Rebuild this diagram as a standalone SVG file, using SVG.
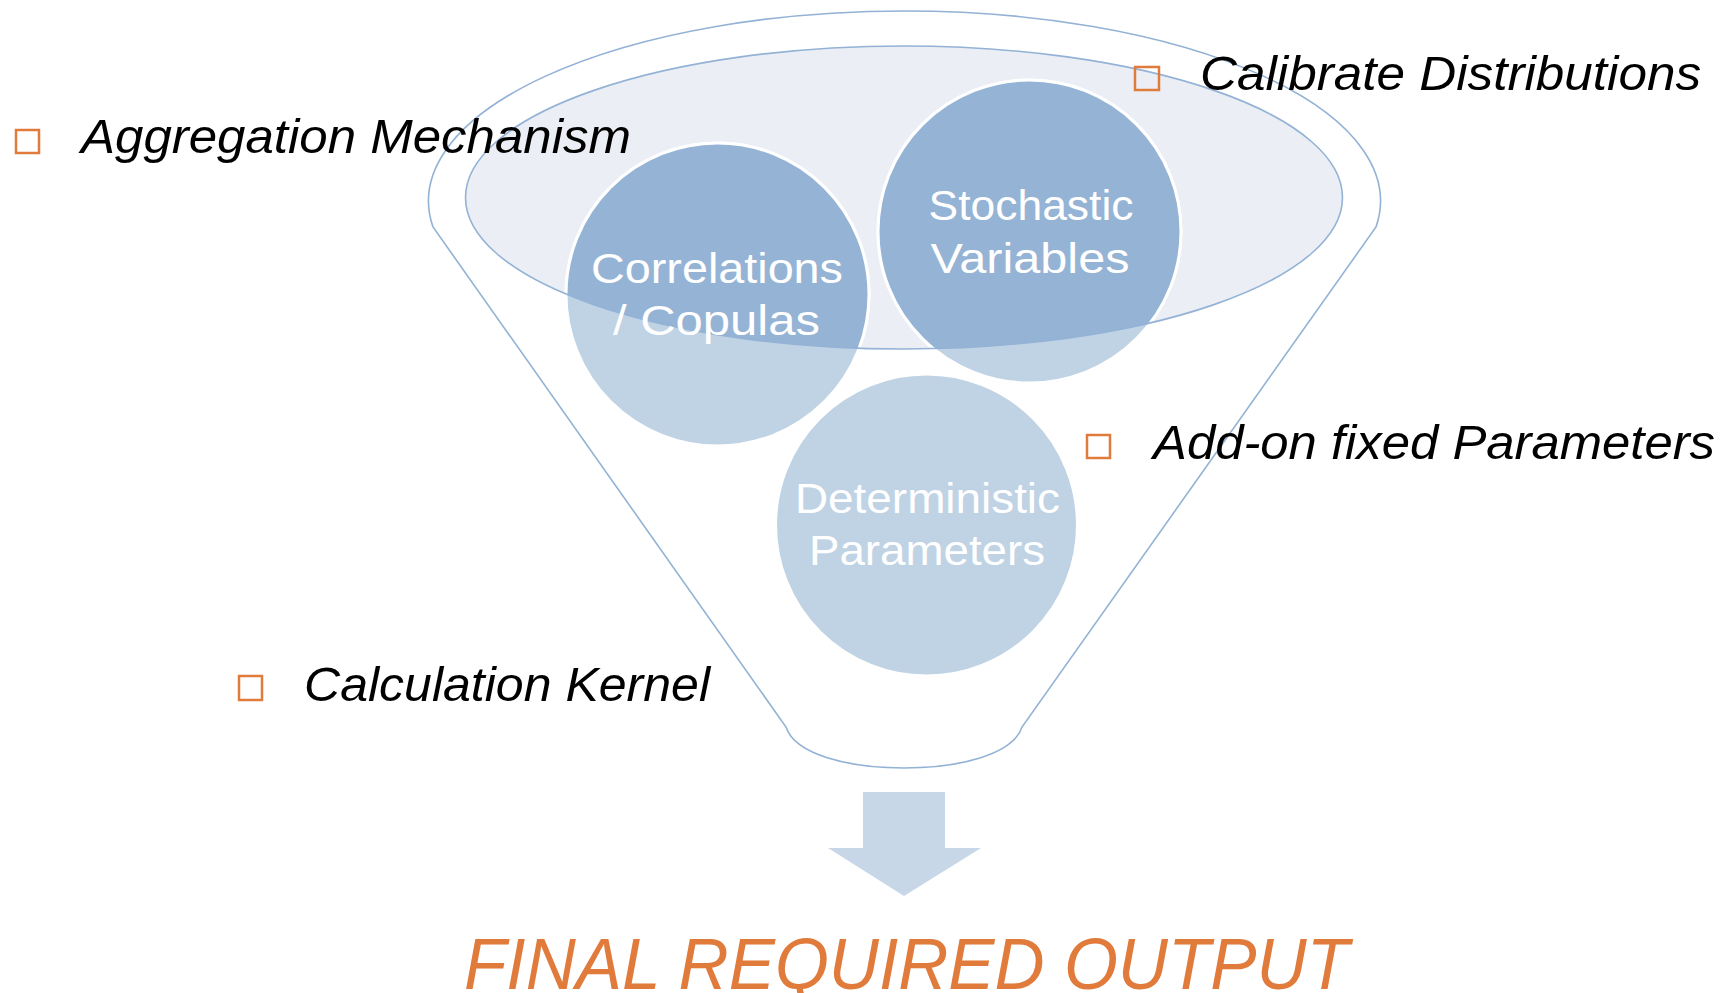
<svg xmlns="http://www.w3.org/2000/svg" width="1735" height="993" viewBox="0 0 1735 993">
<style>
.outline{fill:none;stroke:#93B2D5;stroke-width:1.6}
.circ{fill:#BFD3E5;stroke:#FFFFFF;stroke-width:3}
.circd{fill:#95B4D5;stroke:#FFFFFF;stroke-width:3}
.ctext{font-family:"Liberation Sans",Arial,sans-serif;font-size:43px;fill:#FFFFFF;text-anchor:middle}
.label{font-family:"Liberation Sans",Arial,sans-serif;font-size:48px;font-style:italic;fill:#000000}
.bullet{fill:none;stroke:#E07B3C;stroke-width:2.5}
</style>
<defs>
<clipPath id="ellClip"><ellipse cx="904" cy="197.5" rx="438.5" ry="151.5"/></clipPath>
</defs>
<rect width="1735" height="993" fill="#FFFFFF"/>
<g id="funnel">
<path d="M433,227 A476,190 0 1,1 1376,227 L1022,727 C1013,755 958,768 904,768 C850,768 795,755 786,727 Z" fill="#FFFFFF" stroke="#93B2D5" stroke-width="1.6"/>
<ellipse cx="904" cy="197.5" rx="438.5" ry="151.5" fill="#EBEFF5"/>
</g>
<g id="node-correlations">
<circle class="circ" cx="717.5" cy="294.5" r="151.5"/>
<circle class="circd" cx="717.5" cy="294.5" r="151.5" clip-path="url(#ellClip)"/>
</g>
<g id="node-stochastic">
<circle class="circ" cx="1029.5" cy="231.5" r="151.5"/>
<circle class="circd" cx="1029.5" cy="231.5" r="151.5" clip-path="url(#ellClip)"/>
</g>
<g id="node-deterministic">
<circle class="circ" cx="926.5" cy="525" r="151"/>
</g>
<ellipse class="outline" cx="904" cy="197.5" rx="438.5" ry="151.5"/>
<g id="node-texts">
<text class="ctext" x="717" y="283" textLength="252" lengthAdjust="spacingAndGlyphs">Correlations</text>
<text class="ctext" x="716.5" y="335" textLength="207" lengthAdjust="spacingAndGlyphs">/ Copulas</text>
<text class="ctext" x="1031" y="220" textLength="205" lengthAdjust="spacingAndGlyphs">Stochastic</text>
<text class="ctext" x="1030" y="273" textLength="199" lengthAdjust="spacingAndGlyphs">Variables</text>
<text class="ctext" x="927.5" y="513" textLength="265" lengthAdjust="spacingAndGlyphs">Deterministic</text>
<text class="ctext" x="927" y="565" textLength="236" lengthAdjust="spacingAndGlyphs">Parameters</text>
</g>
<g id="label-aggregation">
<rect class="bullet" x="16" y="130" width="23" height="23"/>
<text class="label" x="81" y="153" textLength="550" lengthAdjust="spacingAndGlyphs">Aggregation Mechanism</text>
</g>
<g id="label-calibrate">
<rect class="bullet" x="1135" y="67" width="24" height="23"/>
<text class="label" x="1200" y="90" textLength="501" lengthAdjust="spacingAndGlyphs">Calibrate Distributions</text>
</g>
<g id="label-addon">
<rect class="bullet" x="1087" y="435" width="23" height="23"/>
<text class="label" x="1153" y="459" textLength="562" lengthAdjust="spacingAndGlyphs">Add-on fixed Parameters</text>
</g>
<g id="label-kernel">
<rect class="bullet" x="239" y="676" width="23" height="24"/>
<text class="label" x="304" y="701" textLength="406" lengthAdjust="spacingAndGlyphs">Calculation Kernel</text>
</g>
<g id="connectors">
<polygon points="863,792 945,792 945,848 981,848 904,896 828,848 863,848" fill="#C7D7E8"/>
</g>
<g id="node-output">
<text x="464" y="989" font-family="'Liberation Sans',Arial,sans-serif" font-size="72" font-style="italic" fill="#E07B3C" textLength="885" lengthAdjust="spacingAndGlyphs">FINAL REQUIRED OUTPUT</text>
</g>
</svg>
